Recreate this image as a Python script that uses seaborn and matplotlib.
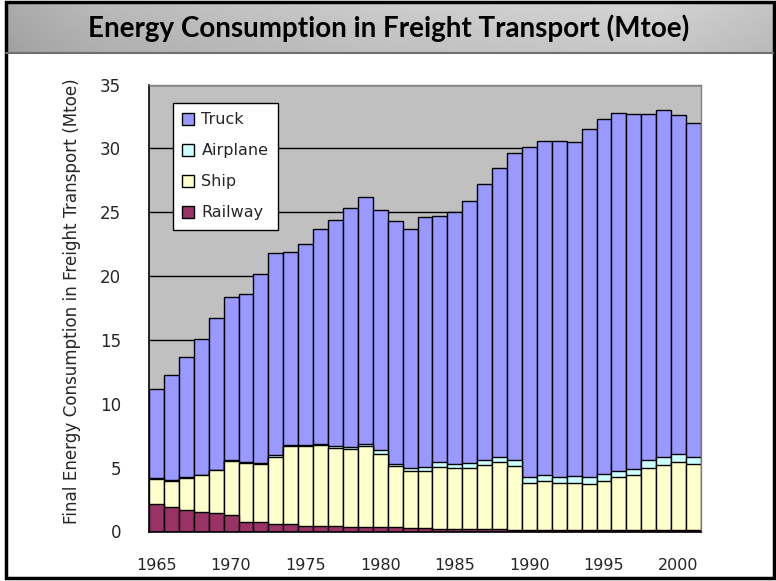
import numpy as np
import pandas as pd
import matplotlib
matplotlib.use("Agg")
import matplotlib.pyplot as plt
import seaborn as sns
from matplotlib.lines import Line2D
from matplotlib.patches import Patch, Rectangle

# Values (Mtoe)
years = list(range(1965, 2002))
railway = [2.15, 1.91, 1.68, 1.50, 1.42, 1.26, 0.74, 0.74, 0.61, 0.56,
           0.45, 0.45, 0.45, 0.38, 0.38, 0.38, 0.38, 0.27, 0.27, 0.20,
           0.18, 0.17, 0.16, 0.16, 0.15, 0.15, 0.14, 0.14, 0.13, 0.13,
           0.13, 0.12, 0.12, 0.12, 0.12, 0.11, 0.11]
ship = [1.95, 2.04, 2.50, 2.89, 3.36, 4.24, 4.64, 4.56, 5.26, 6.17,
        6.28, 6.33, 6.10, 6.09, 6.30, 5.72, 4.76, 4.46, 4.46, 4.86,
        4.80, 4.81, 5.08, 5.32, 4.96, 3.66, 3.83, 3.67, 3.68, 3.60,
        3.84, 4.11, 4.27, 4.86, 5.10, 5.37, 5.19]
airplane = [0.06, 0.06, 0.06, 0.06, 0.06, 0.06, 0.06, 0.06, 0.11, 0.06,
            0.06, 0.06, 0.18, 0.18, 0.18, 0.32, 0.16, 0.25, 0.33, 0.42,
            0.32, 0.39, 0.39, 0.39, 0.45, 0.42, 0.42, 0.42, 0.50, 0.50,
            0.50, 0.52, 0.49, 0.58, 0.58, 0.55, 0.57]
truck = [7.03, 8.28, 9.46, 10.65, 11.86, 12.84, 13.16, 14.84, 15.82, 15.11,
         15.71, 16.86, 17.67, 18.65, 19.34, 18.78, 19.00, 18.72, 19.54, 19.22,
         19.70, 20.53, 21.57, 22.63, 24.04, 25.87, 26.21, 26.37, 26.19, 27.27,
         27.83, 28.05, 27.82, 27.14, 27.20, 26.57, 26.08]

legend_order = ["Truck", "Airplane", "Ship", "Railway"]
stack_order = ["Railway", "Ship", "Airplane", "Truck"]
colors = {"Truck": "#9999FF", "Airplane": "#CCFFFF",
          "Ship": "#FFFFCC", "Railway": "#993366"}

df = pd.DataFrame({"year": years, "Railway": railway, "Ship": ship,
                   "Airplane": airplane, "Truck": truck})
# cumulative tops; draw the tallest layer first so the others sit on top
tops = df[stack_order].cumsum(axis=1)

sns.set_style("white")
plt.rcParams["font.family"] = ["DejaVu Sans"]

W, H = 776, 581
fig = plt.figure(figsize=(W / 100, H / 100), dpi=100)

# title banner
bax = fig.add_axes([6 / W, 1 - 53 / H, 767 / W, 50 / H])
prof = np.interp(np.linspace(0, 1, 300), [0, 0.12, 0.5, 0.85, 1],
                 [0.67, 0.73, 0.80, 0.83, 0.77])
grad = np.tile(prof, (40, 1)) * np.linspace(1.0, 0.94, 40)[:, None]
bax.imshow(grad, cmap="gray", vmin=0, vmax=1, aspect="auto")
bax.axis("off")
fig.add_artist(Line2D([6 / W, 773 / W], [1 - 53 / H] * 2, color="#707070", lw=1.5))
fig.text(389 / W, 1 - 28 / H, "Energy Consumption in Freight Transport (Mtoe)",
         ha="center", va="center", fontsize=20, fontweight="bold",
         family=["Lato", "DejaVu Sans"], color="black")
fig.add_artist(Rectangle((5.5 / W, 1 - 578 / H), 768.5 / W, 576.5 / H,
                         fill=False, edgecolor="black", lw=2.5))

ax = fig.add_axes([149 / W, 1 - 531.5 / H, 552 / W, 447 / H])
ax.set_facecolor("#C0C0C0")

for name in reversed(stack_order):
    sns.barplot(x=df["year"], y=tops[name], color=colors[name], saturation=1,
                width=1.0, edgecolor="black", linewidth=1, errorbar=None,
                ax=ax, zorder=2)

ax.set_ylim(0, 35)
ax.set_yticks(range(0, 36, 5))
ax.set_xlim(-0.5, len(years) - 0.5)
pos = [i for i, y in enumerate(years) if y % 5 == 0]
ax.set_xticks(pos, [str(years[i]) for i in pos])
ax.yaxis.grid(True, color="black", linewidth=1)
ax.set_axisbelow(True)
ax.tick_params(axis="y", direction="in", length=6, width=1, color="black",
               pad=20, labelsize=12)
ax.tick_params(axis="x", length=0, labelsize=11.5)
ax.set_xlabel("")
ax.set_ylabel("")
for side in ["left", "bottom"]:
    ax.spines[side].set_color("black")
    ax.spines[side].set_linewidth(1.2)
for side in ["top", "right"]:
    ax.spines[side].set_color("#808080")
    ax.spines[side].set_linewidth(1)

fig.text(72 / W, 1 - 301 / H,
         "Final Energy Consumption in Freight Transport (Mtoe)",
         rotation=90, ha="center", va="center", fontsize=12.1)

handles = [Patch(facecolor=colors[n], edgecolor="black", label=n) for n in legend_order]
ax.legend(handles=handles, loc="upper left", bbox_to_anchor=(0.043, 0.959),
          borderaxespad=0, fontsize=11.5, frameon=True, fancybox=False,
          edgecolor="black", framealpha=1, handlelength=0.75, handleheight=0.75,
          handletextpad=0.45, labelspacing=1.0, borderpad=0.6)

fig.canvas.draw()
for t in ax.xaxis.get_major_ticks():
    t.set_pad(19)

fig.savefig("out.png", dpi=100)
